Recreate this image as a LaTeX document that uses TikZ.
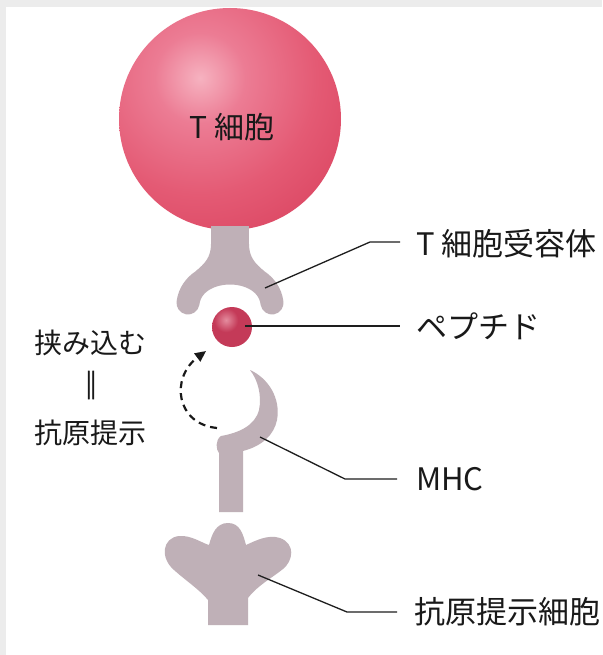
\documentclass[tikz,border=0pt]{standalone}
\usepackage{fontspec}
\setmainfont{Noto Sans CJK JP}
\usetikzlibrary{arrows.meta}

% palette
\definecolor{protein}{RGB}{191,176,183}
\definecolor{leader}{RGB}{30,30,30}
\definecolor{frame}{RGB}{236,236,236}
\definecolor{tchi}{RGB}{246,178,192}
\definecolor{tcmid}{RGB}{236,124,148}
\definecolor{tcbody}{RGB}{228,90,116}
\definecolor{tcedge}{RGB}{210,50,80}
\definecolor{pphi}{RGB}{228,140,158}
\definecolor{ppmid}{RGB}{196,58,88}
\definecolor{ppedge}{RGB}{160,28,58}

% radial ramps with the light spot in the middle; 50bp is the rim of the shaded circle
\pgfdeclareradialshading{tcellball}{\pgfpoint{0bp}{0bp}}{%
  color(0bp)=(tchi); color(7bp)=(tcmid); color(18bp)=(tcbody);
  color(38bp)=(tcedge); color(50bp)=(tcedge)}
\pgfdeclareradialshading{pepball}{\pgfpoint{0bp}{0bp}}{%
  color(0bp)=(pphi); color(10bp)=(ppmid); color(28bp)=(ppmid);
  color(42bp)=(ppedge); color(50bp)=(ppedge)}

\tikzset{
  lbl/.style={font=\fontsize{28}{32}\selectfont, inner sep=0pt, text=black!90},
  rlbl/.style={lbl, font=\fontsize{31}{36}\selectfont, anchor=west},
  leaderline/.style={draw=leader, line width=1.3pt},
  flip/.style={draw=black!90, line width=2.2pt, dash pattern=on 7pt off 5pt,
    -{Triangle[length=11pt,width=10pt]}},
}

\begin{document}
\begin{tikzpicture}[x=1pt,y=-1pt]
  \useasboundingbox (0,0) rectangle (602,655);
  \fill[white] (0,0) rectangle (602,655);
  % page edge
  \fill[frame] (0,0) rectangle (602,7);
  \fill[frame] (0,0) rectangle (6,655);

  % T cell: clip to the ball, shade from the light spot outwards
  \begin{scope}
    \clip (230,119) circle[radius=111];
    \shade[shading=tcellball] (200,78) circle[radius=162];
  \end{scope}
  \node[lbl, font=\fontsize{30}{34}\selectfont] (tcell) at (232,127) {T 細胞};

  % T cell receptor
  \fill[protein] (211,226) rectangle (249,262);
  \fill[protein] (211,244) .. controls (211,258) and (204,264) .. (196,271)
    -- (264,271) .. controls (256,264) and (249,258) .. (249,244) -- cycle;
  \draw[protein, line width=23pt, line cap=round]
    (188,303) .. controls (193,263) and (267,263) .. (272,303);

  % peptide
  \begin{scope}
    \clip (232,327) circle[radius=20];
    \shade[shading=pepball] (226,320) circle[radius=30];
  \end{scope}

  % MHC
  \fill[protein] (250,370) .. controls (268,378) and (281,398) .. (277,420)
    .. controls (274,435) and (262,446) .. (243,451)
    -- (243,512) -- (219,512) -- (219,453)
    .. controls (216,450) and (215,440) .. (221,436)
    .. controls (238,433) and (255,426) .. (259,410)
    .. controls (262,396) and (258,380) .. (250,370) -- cycle;

  % antigen-presenting cell
  \fill[protein] (208,625) -- (208,600)
    .. controls (200,590) and (185,580) .. (174,570)
    .. controls (160,558) and (162,538) .. (179,536)
    .. controls (191,535) and (202,543) .. (209,545)
    .. controls (212,534) and (216,523) .. (228,523)
    .. controls (240,523) and (243,534) .. (246,545)
    .. controls (255,541) and (268,534) .. (280,538)
    .. controls (296,544) and (293,561) .. (283,569)
    .. controls (272,578) and (258,585) .. (248,598)
    -- (248,625) -- cycle;

  % right-hand labels
  \node[rlbl] (tcrlbl) at (416,244) {T 細胞受容体};
  \node[rlbl] (peplbl) at (416,326) {ペプチド};
  \node[rlbl] (mhclbl) at (416,479) {MHC};
  \node[rlbl] (apclbl) at (414,612) {抗原提示細胞};

  % leader lines
  \coordinate (tcrpt) at (265,288);
  \coordinate (tcrbend) at (370,242);
  \coordinate (tcrend) at (400,242);
  \draw[leaderline] (tcrpt) -- (tcrbend) -- (tcrend);

  \coordinate (peppt) at (245,326);
  \coordinate (pepend) at (400,326);
  \draw[leaderline] (peppt) -- (pepend);

  \coordinate (mhcpt) at (260,437);
  \coordinate (mhcbend) at (345,479);
  \coordinate (mhcend) at (397,479);
  \draw[leaderline] (mhcpt) -- (mhcbend) -- (mhcend);

  \coordinate (apcpt) at (258,575);
  \coordinate (apcbend) at (347,612);
  \coordinate (apcend) at (397,612);
  \draw[leaderline] (apcpt) -- (apcbend) -- (apcend);

  % left-hand caption
  \node[lbl] (hold) at (90,343) {挟み込む};
  \node[lbl] (equiv) at (91,385) {\addfontfeature{FakeBold=2.5}‖};
  \node[lbl] (present) at (90,433) {抗原提示};

  % loading the peptide into the MHC groove
  \coordinate (flipstart) at (217,428);
  \coordinate (fliptip) at (206,351);
  \draw[flip] (flipstart) .. controls (176,424) and (170,378) .. (fliptip);
\end{tikzpicture}
\end{document}
